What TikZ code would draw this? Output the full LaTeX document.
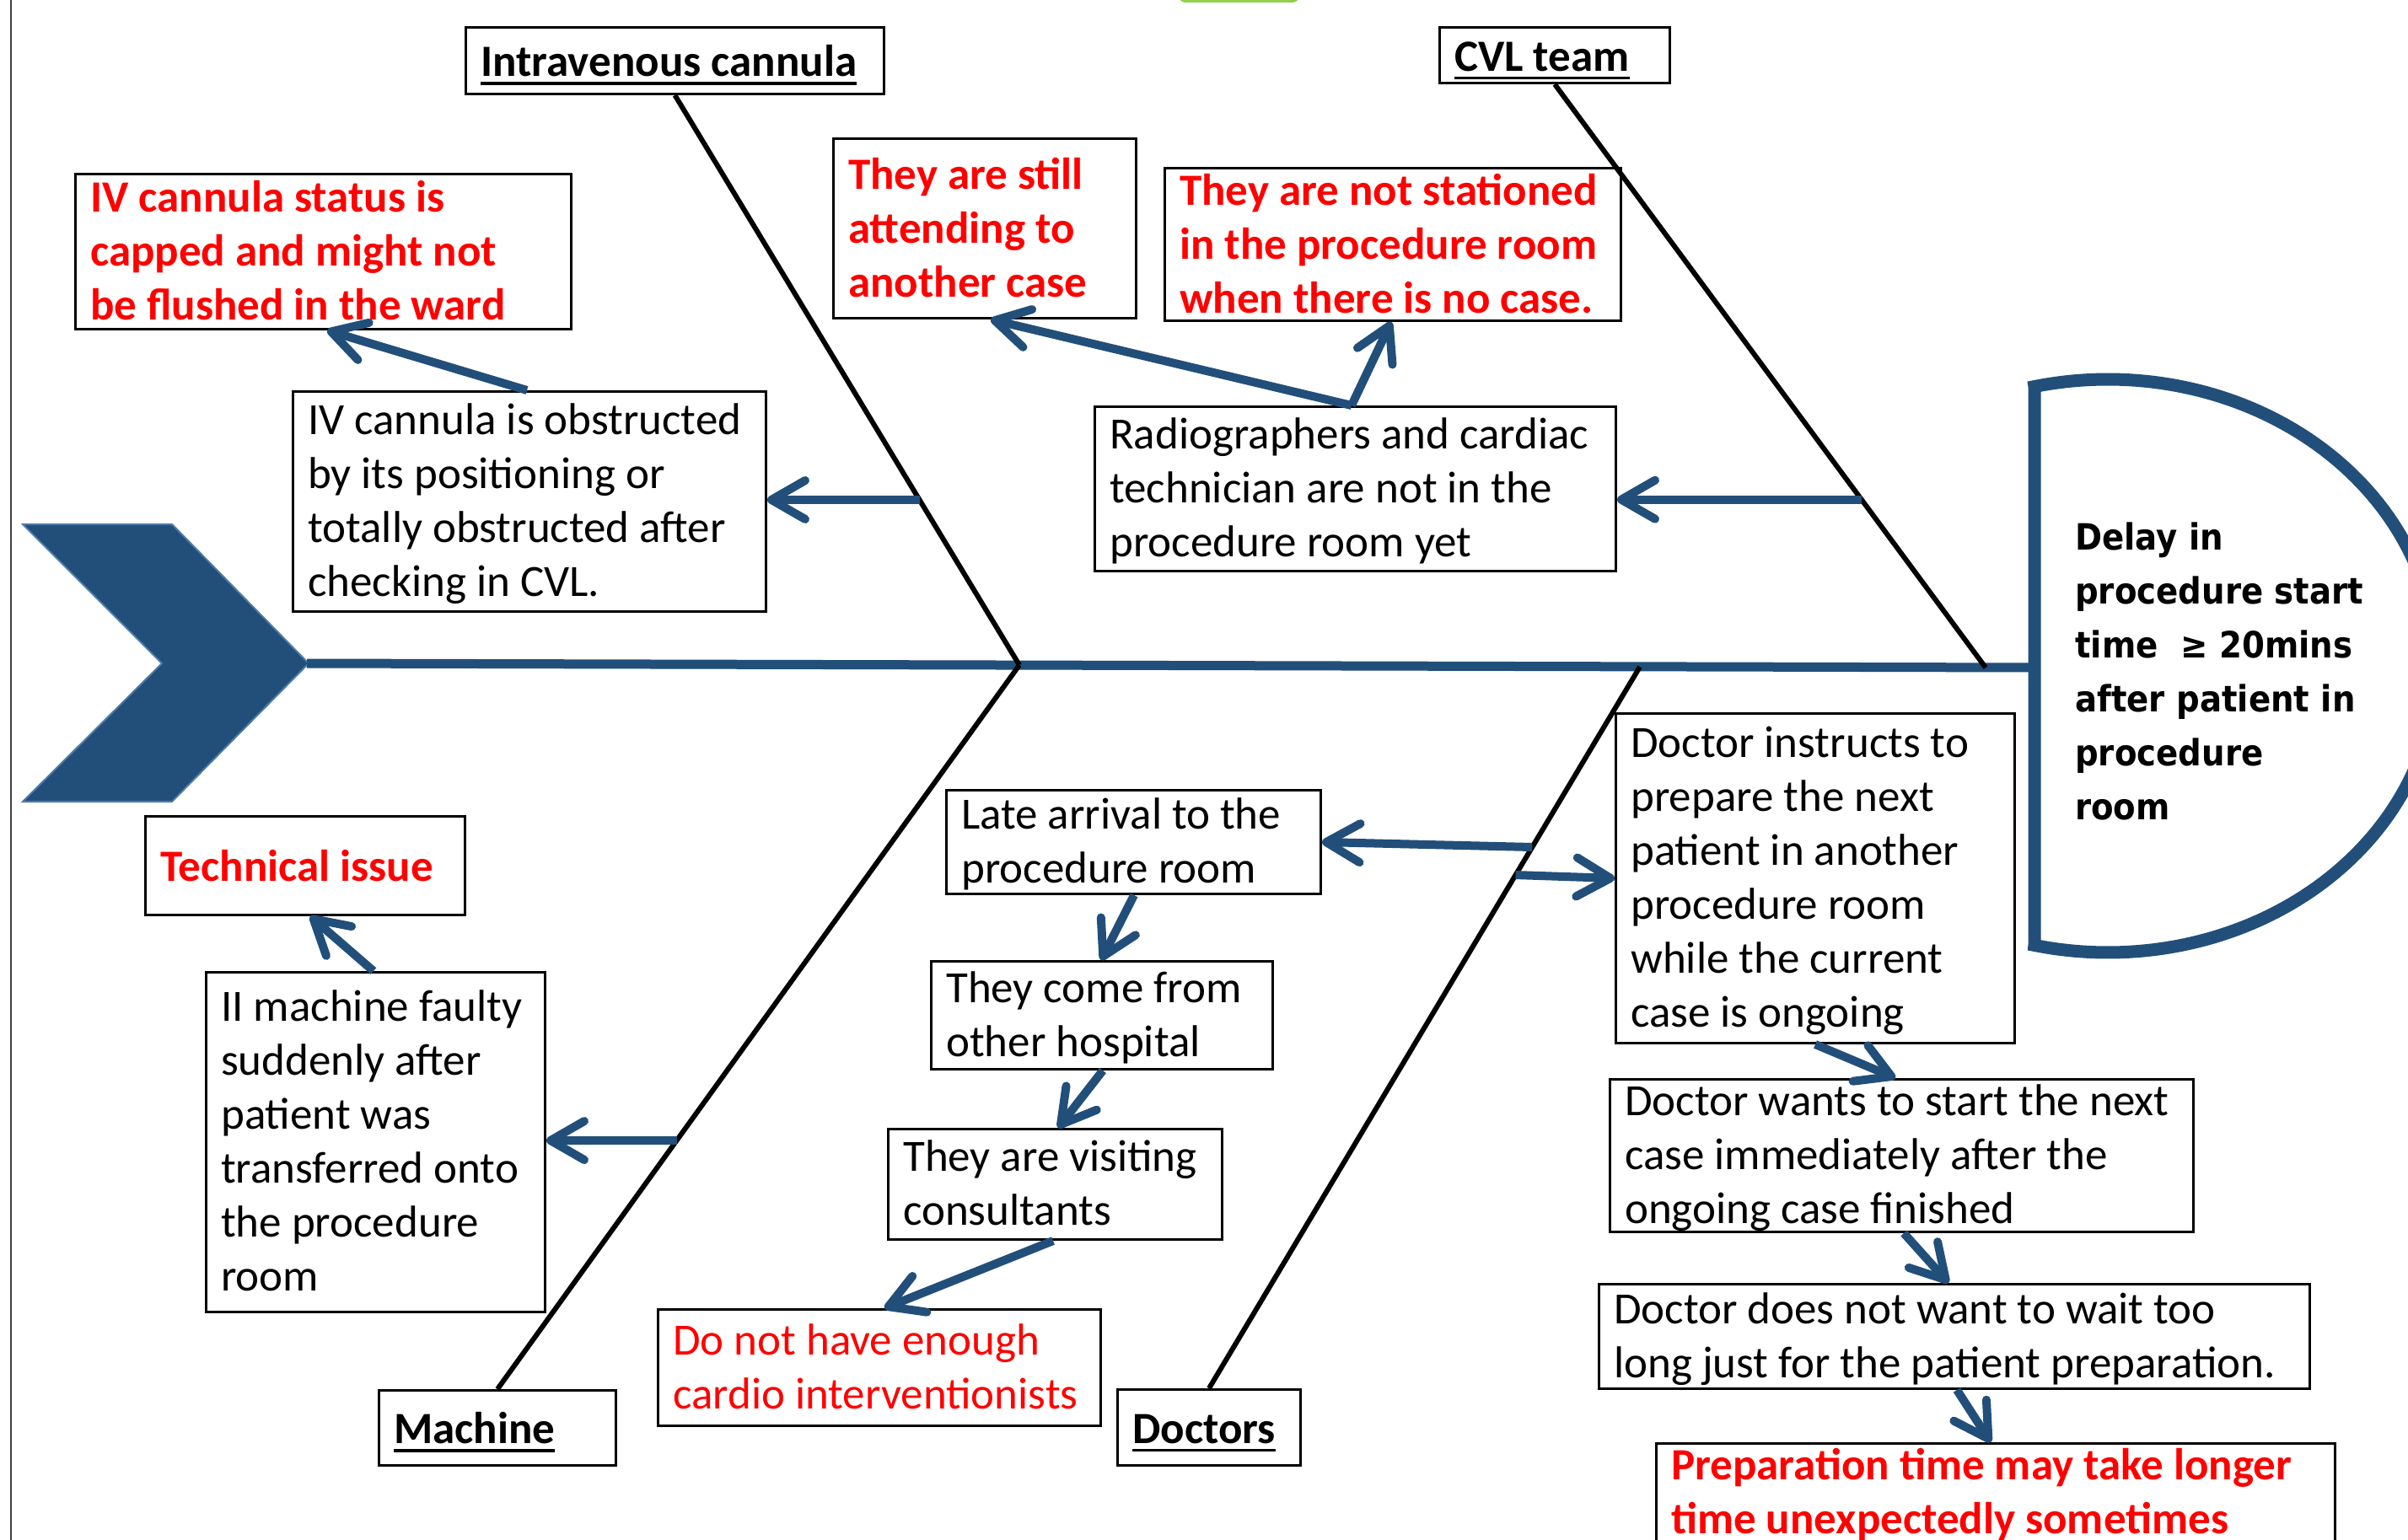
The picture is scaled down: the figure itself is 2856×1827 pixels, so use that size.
\documentclass[tikz,border=0pt]{standalone}
\usepackage{fontspec}
\setmainfont{Carlito}
\newfontfamily\headfont{DejaVu Sans}[FakeStretch=0.9]
\usetikzlibrary{arrows.meta,calc}
\definecolor{fbblue}{RGB}{34,79,122}
\definecolor{fbedge}{RGB}{79,122,168}
\definecolor{fbred}{RGB}{255,0,0}
\definecolor{fbgreen}{RGB}{146,208,80}
\newcommand{\fbul}[1]{\setbox0\hbox{#1}\rlap{\rule[-10pt]{\wd0}{3.5pt}}\box0}
\newcommand\fbmkbox[5]{\node[box,minimum width={(#4-#2)*1pt},minimum height={(#5-#3)*1pt}] (#1) at (#2,#3) {};}
\begin{document}
\begin{tikzpicture}[x=1pt,y=-1pt,
  box/.style={draw=black,line width=3pt,fill=white,inner sep=0pt,anchor=north west},
  txt/.style={anchor=west,align=left,inner sep=0pt,text=black,font=\fontsize{53}{64}\selectfont,execute at begin node=\strut,execute at end node=\strut},
  redb/.style={txt,text=fbred,font=\fontsize{53}{64}\selectfont\bfseries},
  redr/.style={txt,text=fbred},
  cat/.style={txt,font=\fontsize{53}{64}\selectfont\bfseries},
  headtxt/.style={anchor=west,align=left,inner sep=0pt,text=black,font=\headfont\bfseries\fontsize{43}{64}\selectfont,execute at begin node=\strut,execute at end node=\strut},
  bone/.style={draw=black,line width=6pt},
  spine/.style={draw=fbblue,line width=11pt},
  arr/.style={draw=fbblue,line width=10pt,-{Straight Barb[length=40pt,width=46pt,round]}},
]
\useasboundingbox (0,0) rectangle (2856,1827);
\clip (0,0) rectangle (2856,1827);
\fill[white] (0,0) rectangle (2856,1827);
% left border and green tab
\draw[line width=2.5pt,black!75] (13,0) -- (13,1827);
\fill[fbgreen,rounded corners=8pt] (1398,-30) rectangle (1541,3);

% chevron (tail)
\filldraw[fill=fbblue,draw=fbedge,line width=2pt,line join=miter] (27,622) -- (204,622) -- (366,787) -- (204,951) -- (27,951) -- (192,787) -- cycle;
\coordinate (chevTip) at (364,787);
\coordinate (headL) at (2413,792);
\draw[spine] (chevTip) -- (headL);

% head
\draw[fbblue,line width=15pt,fill=white,line join=miter] (2413,1121) -- (2413,459) -- plot[domain=-102.9:102.9,samples=150] ({2500+390*cos(\x)},{790+340*sin(\x)}) -- cycle;
\node[headtxt] (head) at (2461,806) {Delay in\\procedure start\\time\ \ ≥ 20mins\\after patient in\\procedure\\room};

% boxes
\fbmkbox{catIV}{551}{31}{1047}{110}
\fbmkbox{catCVL}{1706}{31}{1979}{97}
\fbmkbox{ivStat}{88}{205}{676}{389}
\fbmkbox{still}{987}{163}{1346}{376}
\fbmkbox{notSt}{1380}{198}{1921}{379}
\fbmkbox{ivObs}{346}{463}{907}{724}
\fbmkbox{radio}{1297}{481}{1915}{676}
\fbmkbox{tech}{171}{967}{550}{1084}
\fbmkbox{iiMach}{243}{1152}{645}{1555}
\fbmkbox{catMach}{448}{1648}{729}{1737}
\fbmkbox{late}{1121}{936}{1565}{1059}
\fbmkbox{other}{1103}{1139}{1508}{1267}
\fbmkbox{visit}{1052}{1338}{1448}{1469}
\fbmkbox{notEn}{779}{1552}{1304}{1690}
\fbmkbox{catDoc}{1324}{1647}{1541}{1737}
\fbmkbox{instr}{1915}{845}{2388}{1236}
\fbmkbox{wants}{1908}{1279}{2600}{1460}
\fbmkbox{notWait}{1895}{1522}{2738}{1646}
\fbmkbox{prep}{1963}{1711}{2768}{1880}

% texts
\node[cat] (catIV-t) at ([xshift=19pt,yshift=-6pt]catIV.west) {\fbul{Intravenous cannula}};
\node[cat] (catCVL-t) at ([xshift=19pt,yshift=-6pt]catCVL.west) {\fbul{CVL team}};
\node[cat] (catMach-t) at ([xshift=19pt,yshift=-6pt]catMach.west) {\fbul{Machine}};
\node[cat] (catDoc-t) at ([xshift=19pt,yshift=-6pt]catDoc.west) {\fbul{Doctors}};
\node[redb] (ivStat-t) at ([xshift=19pt,yshift=-8pt]ivStat.west) {IV cannula status is\\capped and might not\\be flushed in the ward};
\node[redb] (still-t) at ([xshift=19pt,yshift=-8pt]still.west) {They are still\\attending to\\another case};
\node[redb] (notSt-t) at ([xshift=19pt,yshift=-8pt]notSt.west) {They are not stationed\\in the procedure room\\when there is no case.};
\node[txt] (ivObs-t) at ([xshift=19pt,yshift=-8pt]ivObs.west) {IV cannula is obstructed\\by its positioning or\\totally obstructed after\\checking in CVL.};
\node[txt] (radio-t) at ([xshift=19pt,yshift=-8pt]radio.west) {Radiographers and cardiac\\technician are not in the\\procedure room yet};
\node[redb] (tech-t) at ([xshift=19pt,yshift=-6pt]tech.west) {Technical issue};
\node[txt] (iiMach-t) at ([xshift=19pt,yshift=-8pt]iiMach.west) {II machine faulty\\suddenly after\\patient was\\transferred onto\\the procedure\\room};
\node[txt] (late-t) at ([xshift=19pt,yshift=-8pt]late.west) {Late arrival to the\\procedure room};
\node[txt] (other-t) at ([xshift=19pt,yshift=-8pt]other.west) {They come from\\other hospital};
\node[txt] (visit-t) at ([xshift=19pt,yshift=-8pt]visit.west) {They are visiting\\consultants};
\node[redr] (notEn-t) at ([xshift=19pt,yshift=-8pt]notEn.west) {Do not have enough\\cardio interventionists};
\node[txt] (instr-t) at ([xshift=19pt,yshift=-8pt]instr.west) {Doctor instructs to\\prepare the next\\patient in another\\procedure room\\while the current\\case is ongoing};
\node[txt] (wants-t) at ([xshift=19pt,yshift=-8pt]wants.west) {Doctor wants to start the next\\case immediately after the\\ongoing case finished};
\node[txt] (notWait-t) at ([xshift=19pt,yshift=-8pt]notWait.west) {Doctor does not want to wait too\\long just for the patient preparation.};
\node[redb,anchor=north west] (prep-t) at ([xshift=19pt,yshift=-7pt]prep.north west) {Preparation time may take longer\\time unexpectedly sometimes};

% bones
\coordinate (ivJ) at (1209,789);
\coordinate (cvlJ) at (2355,792);
\coordinate (docJ) at (1945,791);
\coordinate (machJ) at (1209,789);
\draw[bone] (catIV.south) -- (ivJ);
\draw[bone] (catCVL.south) -- (cvlJ);
\draw[bone] (catMach.north) -- (machJ);
\draw[bone] (catDoc.north) -- (docJ);

% arrow start points on bones
\coordinate (b1) at ($(catIV.south)!0.710!(ivJ)$);
\coordinate (b2) at ($(catCVL.south)!0.712!(cvlJ)$);
\coordinate (b6) at ($(machJ)!0.6566!(catMach.north)$);
\coordinate (b8) at ($(docJ)!0.25!(catDoc.north)$);
\coordinate (b9) at ($(docJ)!0.2886!(catDoc.north)$);

% arrows
\draw[arr] (b1) -- (ivObs.east |- b1);
\draw[arr] (b2) -- (radio.east |- b2);
\draw[arr] ([xshift=279pt]ivObs.north west) -- ([xshift=300pt]ivStat.south west);
\draw[arr] ([xshift=306pt]radio.north west) -- ([xshift=188pt]still.south west);
\draw[arr] ([xshift=306pt]radio.north west) -- ([xshift=270pt]notSt.south west);
\draw[arr] (b6) -- (iiMach.east |- b6);
\draw[arr] ([xshift=200pt]iiMach.north west) -- ([xshift=197pt]tech.south west);
\draw[arr] (b8) -- (late.east);
\draw[arr] (b9) -- (instr.west);
\draw[arr] ([xshift=224pt]late.south west) -- ([xshift=203pt]other.north west);
\draw[arr] ([xshift=205pt]other.south west) -- ([xshift=203pt]visit.north west);
\draw[arr] ([xshift=197pt]visit.south west) -- ([xshift=270pt]notEn.north west);
\draw[arr] ([xshift=238pt]instr.south west) -- ([xshift=340pt]wants.north west);
\draw[arr] ([xshift=350pt]wants.south west) -- ([xshift=416pt]notWait.north west);
\draw[arr] ([xshift=426pt]notWait.south west) -- ([xshift=398pt]prep.north west);
\end{tikzpicture}
\end{document}
